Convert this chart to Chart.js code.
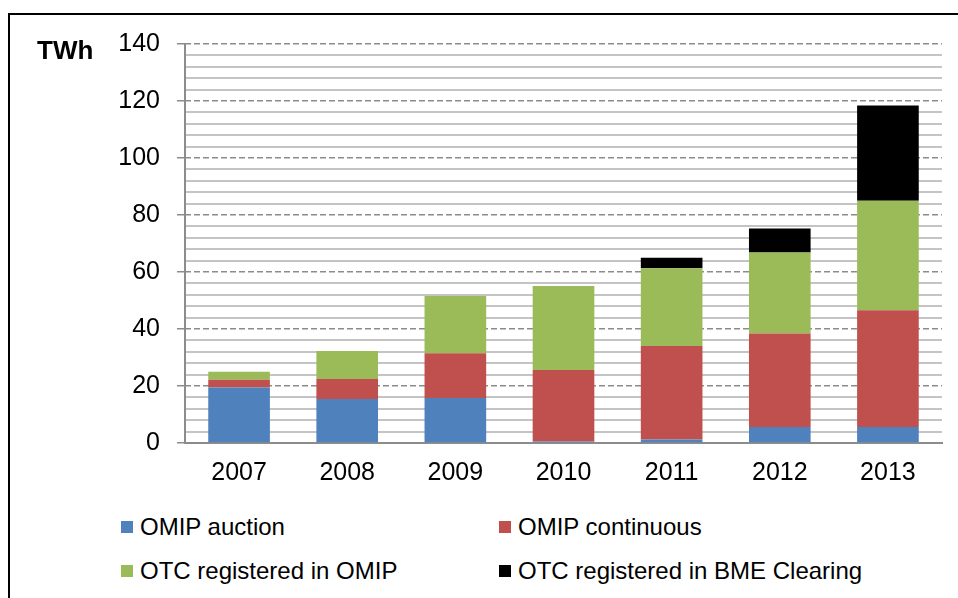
<!DOCTYPE html>
<html>
<head>
<meta charset="utf-8">
<script src="https://cdn.jsdelivr.net/npm/chart.js@4"></script>
<style>
  html, body { margin: 0; padding: 0; background: #fff; }
  body { width: 958px; height: 598px; position: relative; overflow: hidden; font-family: "Liberation Sans", Arial, sans-serif; }
  .frame { position: absolute; left: 8px; top: 13px; width: 980px; height: 620px; border-left: 2px solid #000; border-top: 2px solid #000; }
  .unit { position: absolute; left: 37px; top: 37px; font-size: 26px; line-height: 26px; font-weight: bold; color: #000; }
  #chartBox { position: absolute; left: 0; top: 0; width: 958px; height: 490px; }
  .legend { position: absolute; left: 0; top: 0; font-size: 24px; color: #000; }
  .legend .item { position: absolute; white-space: nowrap; line-height: 26px; }
  .legend .sw { display: inline-block; width: 12px; height: 12px; margin-right: 7px; vertical-align: 2px; }
</style>
</head>
<body>
<div class="frame"></div>
<div id="chartBox"><canvas id="myChart" width="958" height="490"></canvas></div>
<div class="unit">TWh</div>
<div class="legend" id="legend"></div>
<script>
// Datos del gráfico
const years = ['2007', '2008', '2009', '2010', '2011', '2012', '2013'];
const omipAuction = [19.5, 15.4, 15.8, 0.5, 1.2, 5.6, 5.6];
const omipContinuous = [2.7, 7.1, 15.7, 25.1, 32.8, 32.8, 41.0];
const otcOmip = [2.8, 9.8, 20.1, 29.5, 27.3, 28.4, 38.4];
const otcBme = [0, 0, 0, 0, 3.7, 8.5, 33.4];
const seriesNames = ['OMIP auction', 'OMIP continuous', 'OTC registered in OMIP', 'OTC registered in BME Clearing'];
const seriesColors = ['#4F81BD', '#C0504D', '#9BBB59', '#000000'];
const yTicks = [0, 20, 40, 60, 80, 100, 120, 140];

const seriesData = [omipAuction, omipContinuous, otcOmip, otcBme];

const datasets = seriesData.map((values, i) => ({
    label: seriesNames[i],
    data: values,
    backgroundColor: seriesColors[i],
    borderWidth: 0,
    barPercentage: 0.57,
    categoryPercentage: 1,
    yAxisID: 'y'
}));

const fontBase = { family: '"Liberation Sans", Arial, sans-serif', size: 25 };

new Chart(document.getElementById('myChart'), {
    type: 'bar',
    data: { labels: years, datasets: datasets },
    options: {
        responsive: false,
        animation: false,
        layout: { padding: { left: 0, right: 16, top: 44, bottom: 0 } },
        plugins: { legend: { display: false }, tooltip: { enabled: false } },
        scales: {
            x: {
                stacked: true,
                grid: { display: false, drawTicks: false },
                border: { display: true, color: '#8c8c8c', width: 2 },
                ticks: { color: '#000', font: fontBase, padding: 15 },
                afterFit: (scale) => { scale.height = 47; }
            },
            y: {
                stacked: true,
                position: 'left',
                weight: 1,
                min: yTicks[0],
                max: yTicks[yTicks.length - 1],
                afterBuildTicks: (scale) => { scale.ticks = yTicks.map(v => ({ value: v })); },
                grid: { color: '#8c8c8c', lineWidth: 1.5, tickLength: 8, tickColor: '#8c8c8c' },
                border: { display: false, dash: [6, 3] },
                ticks: { color: '#000', font: fontBase, padding: 17 },
                afterFit: (scale) => { scale.width = 185; }
            },
            y2: {
                position: 'left',
                weight: 0,
                min: yTicks[0],
                max: yTicks[yTicks.length - 1],
                ticks: { display: false, stepSize: 4 },
                grid: {
                    drawTicks: false,
                    lineWidth: 2,
                    color: (ctx) => (ctx.tick && ctx.tick.value % 20 === 0) ? 'rgba(0,0,0,0)' : '#c4c4c4'
                },
                border: { display: true, color: '#8c8c8c', width: 2 },
                afterFit: (scale) => { scale.width = 0; }
            }
        }
    }
});

// Leyenda en HTML, dos columnas
const legendPos = [[121, 514], [499, 514], [121, 558], [499, 558]];
const legend = document.getElementById('legend');
legend.innerHTML = seriesNames.map((name, i) => `
    <div class="item" style="left:${legendPos[i][0]}px;top:${legendPos[i][1]}px">
        <span class="sw" style="background:${seriesColors[i]}"></span>${name}
    </div>
`).join('');
</script>
</body>
</html>
